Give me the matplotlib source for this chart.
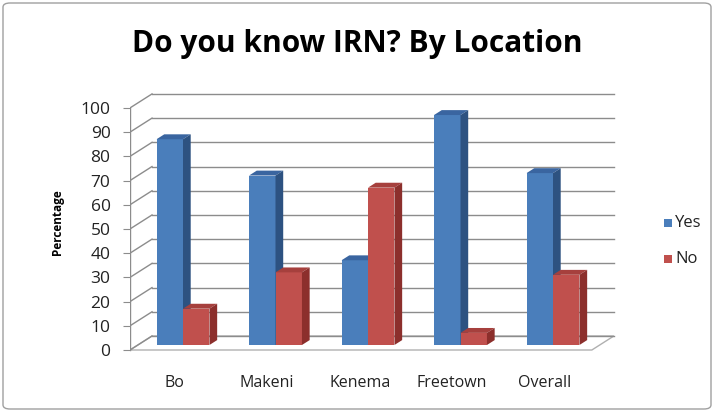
import numpy as np
import matplotlib.pyplot as plt
from matplotlib.patches import Polygon, Rectangle, FancyBboxPatch

# data
locations = ['Bo', 'Makeni', 'Kenema', 'Freetown', 'Overall']
yes = [85, 70, 35, 95, 71]
no = [15, 30, 65, 5, 29]
ticks = list(range(0, 101, 10))

# colours (Excel 2007 style)
blue = ('#4a7ebb', '#3a65a0', '#2d5281')   # front, top, side
red = ('#c0504d', '#a6403d', '#8c2f2c')

# oblique projection in data units
DX, DY = 0.238, 5.79    # full depth offset (back wall)
Y0 = -2.07              # front plane floor level
D_FRONT, D_BACK = 0.36, 0.71
bw = 0.286
xl, xr = -0.573, 4.42
grid_c = '#8c8c8c'

W, H = 714, 412
fig = plt.figure(figsize=(W / 100, H / 100), dpi=100)
ax = fig.add_axes([130 / W, (H - 360) / H, 490 / W, 275 / H])
ax.set_xlim(xl, (620 - 183) / 92.5)
ax.set_ylim(-6.2, 107.4)
for s in ax.spines.values():
    s.set_visible(False)

# floor
ax.add_patch(Polygon([(xl, Y0), (xr, Y0), (xr + DX, Y0 + DY), (xl + DX, Y0 + DY)],
                     closed=True, facecolor='white', edgecolor='#b0b0b0', lw=1, zorder=1))

# gridlines: back wall + left wall diagonals
for v in ticks:
    ax.plot([xl + DX, xr + DX], [v + Y0 + DY, v + Y0 + DY], color=grid_c, lw=1, zorder=1)
    ax.plot([xl, xl + DX], [v + Y0, v + Y0 + DY], color=grid_c, lw=1, zorder=1)
ax.plot([xl, xl], [Y0, 100 + Y0], color=grid_c, lw=1, zorder=1)


def bar3d(x0, v, cols):
    ddx = (D_BACK - D_FRONT) * DX
    ddy = (D_BACK - D_FRONT) * DY
    ax.bar(x0, v, width=bw, align='edge', color=cols[0], zorder=3, lw=0)
    ax.add_patch(Polygon([(x0, v), (x0 + bw, v), (x0 + bw + ddx, v + ddy), (x0 + ddx, v + ddy)],
                         closed=True, facecolor=cols[1], lw=0, zorder=3))
    ax.add_patch(Polygon([(x0 + bw, 0), (x0 + bw, v), (x0 + bw + ddx, v + ddy), (x0 + bw + ddx, ddy)],
                         closed=True, facecolor=cols[2], lw=0, zorder=3))


for i in range(len(locations)):
    bar3d(i - bw, yes[i], blue)
    bar3d(i, no[i], red)

# axis labels
ax.set_yticks([v + Y0 for v in ticks])
ax.set_yticklabels([str(v) for v in ticks], fontsize=12.5, fontfamily='Open Sans', color='#222222')
ax.tick_params(axis='y', length=5, color=grid_c, pad=9)
ax.set_xticks([i - 0.09 for i in range(len(locations))])
ax.set_xticklabels(locations, fontsize=11.5, fontfamily='Open Sans', color='#222222')
ax.tick_params(axis='x', length=0, pad=11)
ax.set_ylabel('Percentage', fontsize=8.5, fontweight='bold', fontfamily='Open Sans', labelpad=12)

fig.text(0.5, (H - 44) / H, 'Do you know IRN? By Location', ha='center', va='center',
         fontsize=21.5, fontweight='bold', fontfamily='Open Sans')

# legend
for lab, c, yy in [('Yes', blue[0], 223), ('No', red[0], 259)]:
    fig.patches.append(Rectangle((664 / W, (H - yy - 4) / H), 8 / W, 8 / H,
                                 facecolor=c, transform=fig.transFigure, figure=fig))
    fig.text(675 / W, (H - yy) / H, lab, fontsize=12, fontfamily='Open Sans',
             va='center', ha='left', color='#222222')

# chart border
fig.patches.append(FancyBboxPatch((3 / W, 3 / H), (W - 6) / W, (H - 6) / H,
                                  boxstyle='round,pad=0,rounding_size=0.01', fill=False,
                                  edgecolor='#a0a0a0', lw=1, transform=fig.transFigure, figure=fig))

fig.savefig('out.png', dpi=100)
